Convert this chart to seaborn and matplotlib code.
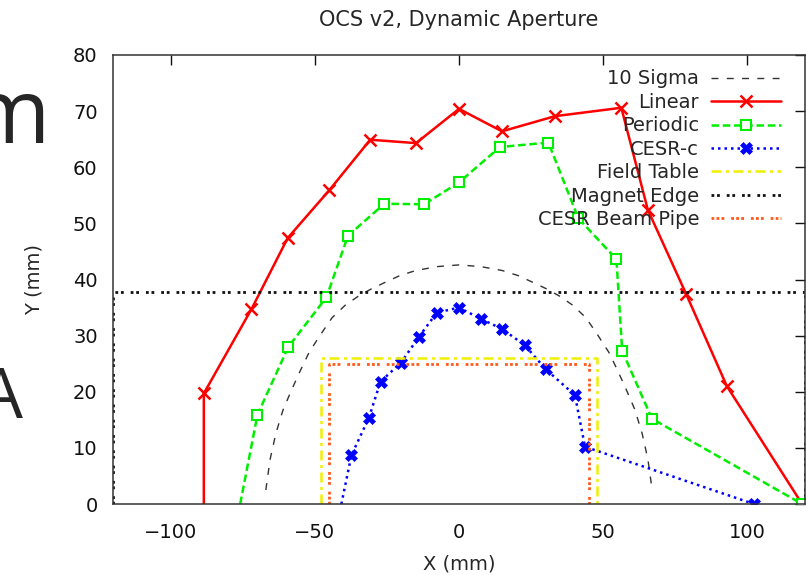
import numpy as np
import pandas as pd
import matplotlib
matplotlib.use("Agg")
import matplotlib.pyplot as plt
import seaborn as sns

# Data (mm)
sigma_x = [-67, -65.5, -63.5, -61, -58, -55, -52, -48, -44, -39.5, -35, -30.5, -26, -20.5, -15, -7.5, 0,
           7.5, 15, 20.5, 26, 30.5, 35, 39.5, 44, 48, 52, 55, 58, 61, 63.5, 65.5, 67]
sigma_y = [2.5, 8.0, 12.6, 16.8, 20.4, 23.8, 27.0, 30.2, 33.2, 35.4, 37.0, 38.3, 39.4, 40.7, 41.6, 42.3, 42.6,
           42.3, 41.6, 40.7, 39.4, 38.3, 37.0, 35.4, 33.2, 30.2, 27.0, 23.8, 20.4, 16.8, 12.6, 8.0, 2.5]

linear_x = [-88.5, -88.5, -72, -59.4, -45, -30.8, -14.9, 0, 14.9, 33.3, 56.3, 65.5, 78.7, 92.9, 119]
linear_y = [0, 19.7, 34.7, 47.4, 55.9, 64.9, 64.3, 70.4, 66.4, 69.1, 70.6, 52.4, 37.5, 21.0, 0]

periodic_x = [-75.9, -69.9, -59.2, -46, -38.5, -25.9, -12.1, 0, 14.2, 31, 41.4, 54.6, 56.6, 66.9, 119]
periodic_y = [0, 15.9, 28.0, 36.8, 47.8, 53.5, 53.4, 57.3, 63.6, 64.4, 50.9, 43.6, 27.3, 15.2, 0]

cesrc_x = [-40.8, -37.3, -31.3, -27.2, -20.1, -14, -7.7, 0, 7.5, 14.9, 22.8, 30.1, 40.2, 43.7, 102.3]
cesrc_y = [0, 8.7, 15.3, 21.8, 25.2, 29.7, 34.1, 35.0, 33.0, 31.2, 28.3, 24.0, 19.4, 10.2, 0]

field_x = [-48, -48, 48, 48]
field_y = [0, 26, 26, 0]

magnet_x = [-120, -120, 120, 120]
magnet_y = [0, 37.8, 37.8, 0]

pipe_x = [-45, -45, 45, 45]
pipe_y = [0, 25, 25, 0]

x_ticks = [-100, -50, 0, 50, 100]
y_ticks = [0, 10, 20, 30, 40, 50, 60, 70, 80]

sns.set_style("white")
plt.rcParams["font.family"] = ["DejaVu Sans"]

fig = plt.figure(figsize=(8.06, 5.75), dpi=100)
ax = fig.add_axes([113 / 806, 71 / 575, 692 / 806, 449 / 575])

def draw(xs, ys, label, **kw):
    df = pd.DataFrame({"x": xs, "y": ys})
    sns.lineplot(data=df, x="x", y="y", sort=False, estimator=None, ax=ax, label=label, **kw)

draw(sigma_x, sigma_y, "10 Sigma", color="#333333", lw=1.0, linestyle=(0, (5, 6)))
draw(linear_x, linear_y, "Linear", color="#ff0000", lw=1.8, marker="x", markersize=8,
     markeredgewidth=1.8, markeredgecolor="#ff0000", markevery=list(range(1, len(linear_x))))
draw(periodic_x, periodic_y, "Periodic", color="#00ee00", lw=1.8, linestyle=(0, (3, 1.5)),
     marker="s", markersize=7, markerfacecolor="white", markeredgecolor="#00ee00",
     markeredgewidth=1.5, markevery=list(range(1, len(periodic_x))))
draw(cesrc_x, cesrc_y, "CESR-c", color="#0000ff", lw=1.8, linestyle=(0, (1, 1.6)),
     marker="X", markersize=9, markeredgewidth=0.5, markeredgecolor="#0000ff",
     markevery=list(range(1, len(cesrc_x))))
draw(field_x, field_y, "Field Table", color="#f0f000", lw=1.8, linestyle=(0, (4, 1.8, 1.2, 1.8)))
draw(magnet_x, magnet_y, "Magnet Edge", color="#111111", lw=2.0, linestyle=(0, (1, 1, 1, 2.5)))
draw(pipe_x, pipe_y, "CESR Beam Pipe", color="#ff5a1a", lw=2.0, linestyle=(0, (1, 0.8, 1, 0.8, 1, 2.5)))

ax.set_xlim(-120, 120)
ax.set_ylim(0, 80)
ax.set_xticks(x_ticks)
ax.set_yticks(y_ticks)
ax.tick_params(direction="in", length=7.5, width=1.0, top=True, right=True,
               labelsize=14, pad=11, colors="#111111")
ax.tick_params(axis="x", pad=14)
for s in ax.spines.values():
    s.set_color("#333333")
    s.set_linewidth(1.1)

ax.set_xlabel("X (mm)", fontsize=14, labelpad=9)
ax.set_ylabel("Y (mm)", fontsize=14)
ax.yaxis.set_label_coords(-0.10, 0.5)
ax.set_title("OCS v2, Dynamic Aperture", fontsize=15, pad=21)

handles, labels = ax.get_legend_handles_labels()
ax.legend(handles, labels, loc="upper right", bbox_to_anchor=(0.965, 0.968),
          frameon=False, markerfirst=False, fontsize=14, handlelength=3.6,
          handletextpad=0.6, labelspacing=0.23, borderpad=0, borderaxespad=0)

# slide text peeking in at the left edge
fig.text(50 / 806, 1 - 143 / 575, "m", fontsize=64, ha="right", va="baseline",
         family=["Open Sans", "DejaVu Sans"])
fig.text(23 / 806, 1 - 418 / 575, "A", fontsize=50, ha="right", va="baseline",
         family=["Open Sans", "DejaVu Sans"])

fig.savefig("out.png", dpi=100)
